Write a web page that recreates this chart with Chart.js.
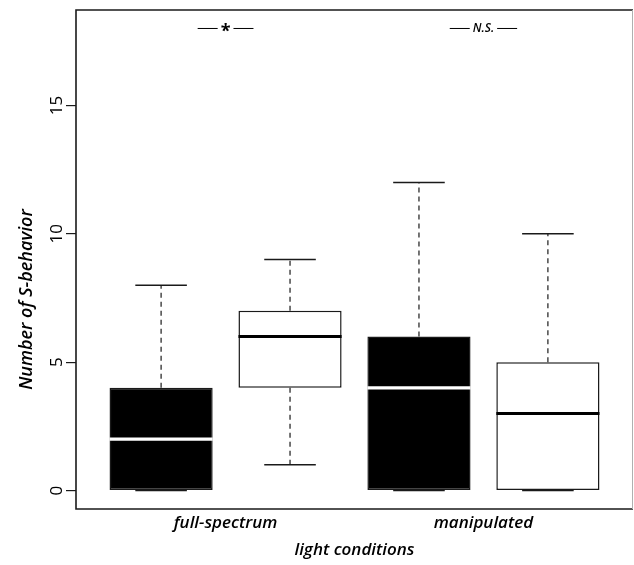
<!DOCTYPE html>
<html><head><meta charset="utf-8">
<script src="https://cdn.jsdelivr.net/npm/chart.js@4.4.1/dist/chart.umd.min.js"></script>
<style>html,body{margin:0;padding:0;background:#fff;}#wrap{width:634px;height:565px;}</style>
</head><body><div id="wrap"><canvas id="c" width="634" height="565"></canvas></div>
<script>
// ---- data ----
const groupLabels = ['full-spectrum', 'manipulated'];
const groupPositions = [1.5, 3.5];
const boxPositions = [1, 2, 3, 4];
const whiskerLow = [0, 1, 0, 0];
const quartile1 = [0, 4, 0, 0];
const medians = [2, 6, 4, 3];
const quartile3 = [4, 7, 6, 5];
const whiskerHigh = [8, 9, 12, 10];
const boxFills = ['#000000', '#ffffff', '#000000', '#ffffff'];
const medianColors = ['#ffffff', '#000000', '#ffffff', '#000000'];
const yTicks = [0, 5, 10, 15];
const annotationLabels = ['*', 'N.S.'];
const annotationY = 18;
const yTitle = 'Number of S-behavior';
const xTitle = 'light conditions';

// ---- styles ----
const LABEL_FONT = '"Open Sans", "DejaVu Sans", sans-serif';
const BOX_HALF = 0.4, CAP_HALF = 0.2;

const whiskerData = [];
const capData = [];
boxPositions.forEach((x, i) => {
  whiskerData.push({x, y: quartile3[i]}, {x, y: whiskerHigh[i]}, {x, y: null},
                   {x, y: whiskerLow[i]}, {x, y: quartile1[i]}, {x, y: null});
  capData.push({x: x - CAP_HALF, y: whiskerHigh[i]}, {x: x + CAP_HALF, y: whiskerHigh[i]}, {x, y: null},
               {x: x - CAP_HALF, y: whiskerLow[i]}, {x: x + CAP_HALF, y: whiskerLow[i]}, {x, y: null});
});

const medianSets = boxPositions.map((x, i) => ({
  type: 'line',
  data: [{x: x - BOX_HALF, y: medians[i]}, {x: x + BOX_HALF, y: medians[i]}],
  borderColor: medianColors[i], borderWidth: 3.2, pointRadius: 0, order: 1,
  borderCapStyle: 'butt', fill: false
}));

const frameAndText = {
  id: 'frameAndText',
  afterDraw(chart) {
    const {ctx, chartArea: a, scales: {x, y}} = chart;
    ctx.save();
    // frame
    ctx.strokeStyle = '#1a1a1a';
    ctx.lineWidth = 1.6;
    ctx.beginPath();
    ctx.moveTo(a.right, a.top); ctx.lineTo(a.left, a.top);
    ctx.lineTo(a.left, a.bottom); ctx.lineTo(a.right, a.bottom);
    ctx.stroke();
    ctx.strokeStyle = '#b0b0b0'; ctx.lineWidth = 1;
    ctx.beginPath(); ctx.moveTo(a.right - 0.5, a.top); ctx.lineTo(a.right - 0.5, a.bottom); ctx.stroke();

    // y tick labels (rotated, as in R)
    ctx.fillStyle = '#000';
    ctx.font = '17px ' + LABEL_FONT;
    ctx.textAlign = 'center'; ctx.textBaseline = 'middle';
    y.ticks.forEach(t => {
      const py = y.getPixelForValue(t.value);
      ctx.save(); ctx.translate(57, py); ctx.rotate(-Math.PI / 2);
      ctx.fillText(String(t.value), 0, 0); ctx.restore();
    });

    // y title
    ctx.font = 'italic 600 18px ' + LABEL_FONT;
    ctx.save(); ctx.translate(27, (a.top + a.bottom) / 2 + 40); ctx.rotate(-Math.PI / 2);
    ctx.fillText(yTitle, 0, 0); ctx.restore();

    // significance annotations
    annotationLabels.forEach((lab, i) => {
      const px = x.getPixelForValue(groupPositions[i]);
      const py = y.getPixelForValue(annotationY);
      ctx.font = lab === '*' ? 'bold 18px ' + LABEL_FONT : 'italic 600 12px ' + LABEL_FONT;
      const tw = ctx.measureText(lab).width;
      ctx.fillStyle = '#000';
      ctx.fillText(lab, px, lab === '*' ? py + 3 : py);
      const gap = tw / 2 + 3, len = 20;
      ctx.strokeStyle = '#000'; ctx.lineWidth = 1;
      ctx.beginPath();
      ctx.moveTo(px - gap - len, py); ctx.lineTo(px - gap, py);
      ctx.moveTo(px + gap, py); ctx.lineTo(px + gap + len, py);
      ctx.stroke();
    });
    ctx.restore();
  }
};

new Chart(document.getElementById('c'), {
  type: 'bar',
  data: {
    datasets: [
      {
        type: 'bar',
        data: boxPositions.map((x, i) => ({x, y: [quartile1[i], quartile3[i]]})),
        backgroundColor: boxFills, borderColor: '#1a1a1a', borderWidth: 1.5,
        borderSkipped: false, barPercentage: 0.8, categoryPercentage: 1.0, order: 3
      },
      {
        type: 'line', data: whiskerData, borderColor: '#1a1a1a', borderWidth: 1.2,
        borderDash: [5, 4], pointRadius: 0, spanGaps: false, fill: false, order: 2
      },
      {
        type: 'line', data: capData, borderColor: '#1a1a1a', borderWidth: 1.5,
        pointRadius: 0, spanGaps: false, fill: false, order: 2
      },
      ...medianSets
    ]
  },
  options: {
    responsive: false, animation: false,
    layout: {padding: {left: 0, right: 1, top: 10, bottom: 0}},
    plugins: {legend: {display: false}, tooltip: {enabled: false}},
    scales: {
      x: {
        type: 'linear', min: 0.34, max: 4.66, offset: false,
        afterBuildTicks: s => { s.ticks = groupPositions.map(v => ({value: v})); },
        afterFit: s => { s.height = 56; },
        grid: {display: false, drawTicks: false},
        border: {display: false},
        ticks: {
          callback: (v, i) => groupLabels[i], color: '#000', padding: 4,
          font: {family: LABEL_FONT, size: 17, style: 'italic', weight: '600'},
          maxRotation: 0, autoSkip: false
        },
        title: {display: true, text: xTitle, color: '#000', padding: {top: 0, bottom: 5},
          font: {family: LABEL_FONT, size: 17, style: 'italic', weight: '600'}}
      },
      y: {
        type: 'linear', min: -0.72, max: 18.72,
        afterBuildTicks: s => { s.ticks = yTicks.map(v => ({value: v})); },
        afterFit: s => { s.width = 76; },
        grid: {drawOnChartArea: false, drawTicks: true, tickLength: 10, color: '#1a1a1a', lineWidth: 1.2},
        border: {display: false},
        ticks: {display: false}
      }
    }
  },
  plugins: [frameAndText]
});
</script></body></html>
